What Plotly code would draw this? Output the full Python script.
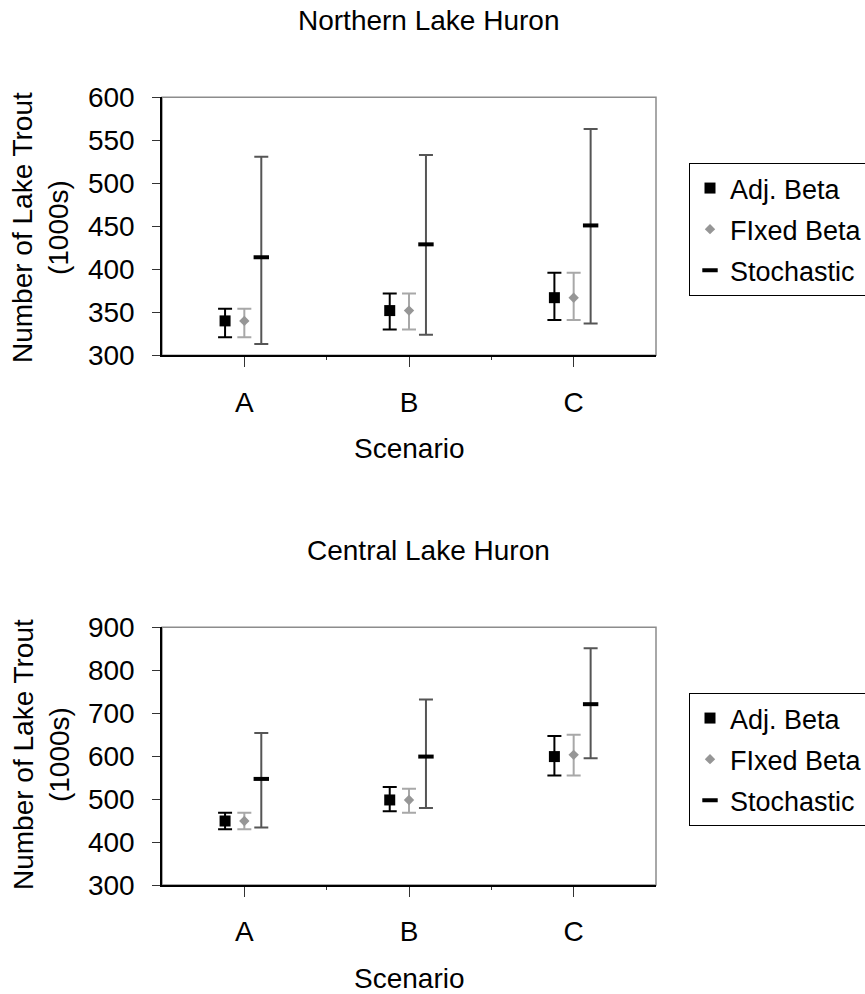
import plotly.graph_objects as go

W, H = 865, 994

scenarios = ["A", "B", "C"]
series_names = ["Adj. Beta", "FIxed Beta", "Stochastic"]

# Northern Lake Huron (1000s)
north_adj = [340, 352, 367]
north_adj_lo = [321, 330, 341]
north_adj_hi = [354, 372, 396]
north_fix = [340, 352, 367]
north_fix_lo = [321, 330, 341]
north_fix_hi = [354, 372, 396]
north_sto = [414, 429, 451]
north_sto_lo = [313, 324, 337]
north_sto_hi = [531, 533, 563]

# Central Lake Huron (1000s)
central_adj = [449, 498, 599]
central_adj_lo = [430, 472, 555]
central_adj_hi = [468, 528, 647]
central_fix = [449, 498, 603]
central_fix_lo = [430, 468, 555]
central_fix_hi = [468, 524, 650]
central_sto = [547, 599, 721]
central_sto_lo = [434, 479, 595]
central_sto_hi = [654, 732, 851]

north_ticks = [300, 350, 400, 450, 500, 550, 600]
central_ticks = [300, 400, 500, 600, 700, 800, 900]

FONT = "Liberation Sans, Arial, sans-serif"
FS = 28
LFS = 27

def px_x(p):
    return p / W

def px_y(p):
    return 1 - p / H

OFFSETS = [-0.117, 0.0, 0.103]
STYLES = [
    dict(marker=dict(symbol="square", size=11, color="black"),
         err_color="black"),
    dict(marker=dict(symbol="diamond", size=8, color="#969696"),
         err_color="#a8a8a8"),
    dict(marker=dict(symbol="line-ew", size=11, color="black",
                     line=dict(color="black", width=4)),
         err_color="#555555"),
]

fig = go.Figure()

panels = [
    dict(xa="x", ya="y", legend="legend", tag="n",
         series=[(north_adj, north_adj_lo, north_adj_hi),
                 (north_fix, north_fix_lo, north_fix_hi),
                 (north_sto, north_sto_lo, north_sto_hi)]),
    dict(xa="x2", ya="y2", legend="legend2", tag="c",
         series=[(central_adj, central_adj_lo, central_adj_hi),
                 (central_fix, central_fix_lo, central_fix_hi),
                 (central_sto, central_sto_lo, central_sto_hi)]),
]

for p in panels:
    for i, (vals, lo, hi) in enumerate(p["series"]):
        st = STYLES[i]
        xs = [k + OFFSETS[i] for k in range(len(scenarios))]
        fig.add_trace(go.Scatter(
            x=xs, y=vals, mode="markers", name=series_names[i],
            xaxis=p["xa"], yaxis=p["ya"], legend=p["legend"],
            legendgroup=f"{p['tag']}{i}",
            marker=st["marker"],
            error_y=dict(type="data", symmetric=False,
                         array=[h - v for h, v in zip(hi, vals)],
                         arrayminus=[v - l for v, l in zip(vals, lo)],
                         color=st["err_color"], thickness=2, width=7),
            cliponaxis=False,
        ))

x_dom = [px_x(162), px_x(656)]
top_dom = [px_y(355.3), px_y(97.3)]
bot_dom = [px_y(885), px_y(627.3)]

def xaxis(anchor):
    return dict(domain=x_dom, anchor=anchor, range=[-0.5, 2.5],
                tickmode="array", tickvals=[0, 1, 2], ticktext=scenarios,
                ticks="outside", ticklen=10, tickwidth=1, tickcolor="#333",
                minor=dict(tickmode="array", tickvals=[0.5, 1.5], ticks="outside",
                           ticklen=3, tickcolor="#333"),
                showline=True, linecolor="black", linewidth=1.5,
                showgrid=False, zeroline=False, fixedrange=True,
                tickfont=dict(family=FONT, size=FS, color="black"),
                ticklabelstandoff=11, automargin=False)

def yaxis(anchor, dom, rng, tv):
    return dict(domain=dom, anchor=anchor, range=rng,
                tickmode="array", tickvals=tv,
                ticks="outside", ticklen=8, tickwidth=1, tickcolor="#333",
                showline=True, linecolor="black", linewidth=1.5,
                showgrid=False, zeroline=False, fixedrange=True,
                tickfont=dict(family=FONT, size=FS, color="black"),
                ticklabelstandoff=12, automargin=False)

legend_common = dict(
    xanchor="left", yanchor="top", bgcolor="white",
    bordercolor="black", borderwidth=1, tracegroupgap=3,
    font=dict(family=FONT, size=LFS, color="black"),
    itemclick=False, itemdoubleclick=False,
)

fig.update_layout(
    width=W, height=H,
    margin=dict(l=0, r=0, t=0, b=0, autoexpand=False),
    paper_bgcolor="white", plot_bgcolor="white",
    font=dict(family=FONT, size=FS, color="black"),
    xaxis=xaxis("y"),
    yaxis=yaxis("x", top_dom, [300, 600], north_ticks),
    xaxis2=xaxis("y2"),
    yaxis2=yaxis("x2", bot_dom, [300, 900], central_ticks),
    legend=dict(x=px_x(689), y=px_y(163), **legend_common),
    legend2=dict(x=px_x(689), y=px_y(693), **legend_common),
    showlegend=True,
)

# plot-area frame (grey top/right edges)
for xr, yr in [("x domain", "y domain"), ("x2 domain", "y2 domain")]:
    fig.add_shape(type="rect", xref=xr, yref=yr, x0=0, x1=1, y0=0, y1=1,
                  line=dict(color="#8c8c8c", width=1.5), layer="below")

ann = []
for text, xp, yp in [("Northern Lake Huron", 428, 20), ("Central Lake Huron", 428, 550)]:
    ann.append(dict(text=text, x=px_x(xp), y=px_y(yp), xref="paper", yref="paper",
                    showarrow=False, xanchor="center", yanchor="middle",
                    font=dict(family=FONT, size=FS, color="black")))
for yp in [448, 978]:
    ann.append(dict(text="Scenario", x=px_x(409), y=px_y(yp), xref="paper", yref="paper",
                    showarrow=False, xanchor="center", yanchor="middle",
                    font=dict(family=FONT, size=FS, color="black")))
for yp in [228, 755]:
    ann.append(dict(text="Number of Lake Trout<br>(1000s)", x=px_x(41), y=px_y(yp),
                    xref="paper", yref="paper", textangle=-90,
                    showarrow=False, xanchor="center", yanchor="middle",
                    font=dict(family=FONT, size=FS, color="black")))
fig.update_layout(annotations=ann)

# remove the browser's default 8px page margin so the figure fills the window
fig.write_html("out.html", config={"displayModeBar": False},
               post_script="document.body.style.margin='0';")
